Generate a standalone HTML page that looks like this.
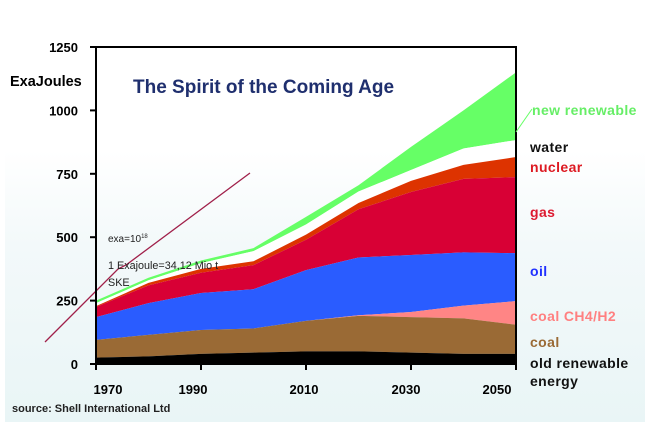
<!DOCTYPE html>
<html><head><meta charset="utf-8"><style>
html,body{margin:0;padding:0;background:#fff}
svg{display:block;font-family:"Liberation Sans",Arial,sans-serif}
</style></head><body>
<svg id="chart" width="655" height="427" viewBox="0 0 655 427">
<defs><linearGradient id="bg" x1="0" y1="0" x2="0" y2="1">
<stop offset="0" stop-color="#ffffff"/><stop offset="0.35" stop-color="#f3f9fa"/><stop offset="1" stop-color="#e9f5f6"/></linearGradient></defs>
<rect x="5" y="150" width="640" height="272" fill="url(#bg)"/>
<g id="areas"></g>
<polyline points="45,342 118,269 126,265 250,173" fill="none" stroke="#a0204a" stroke-width="1.3"/>
<g id="axes"></g>
<text x="133" y="93" font-size="19" font-weight="bold" fill="#1f2f6e">The Spirit of the Coming Age</text>
<text x="10" y="86" font-size="14.5" font-weight="bold" fill="#000">ExaJoules</text>
<text x="108" y="242" font-size="10" fill="#222">exa=10<tspan font-size="6" dy="-4">18</tspan></text>
<text x="108" y="269" font-size="10.8" fill="#222">1 Exajoule=34,12 Mio t</text>
<text x="108" y="286" font-size="10.8" fill="#222">SKE</text>
<text x="12" y="412" font-size="11" font-weight="bold" fill="#222">source: Shell International Ltd</text>
<g font-size="14" font-weight="bold" letter-spacing="0.4">
<line x1="516" y1="132" x2="532" y2="109" stroke="#66ff66" stroke-width="1"/>
<text x="532" y="115" fill="#66ee66">new renewable</text>
<text x="530" y="152" fill="#111">water</text>
<text x="530" y="172" fill="#dd1a22">nuclear</text>
<text x="530" y="217" fill="#dd1a30">gas</text>
<text x="530" y="276" fill="#2030ff">oil</text>
<text x="530" y="321" fill="#ff8080">coal CH4/H2</text>
<text x="530" y="347" fill="#9a6a35">coal</text>
<text x="530" y="368" fill="#111">old renewable</text>
<text x="530" y="386" fill="#111">energy</text>
</g>
</svg>
<script>
const years=[1970,1980,1990,2000,2010,2020,2030,2040,2050];
// cumulative stacked tops (EJ)
const oldRenewable=[25,30,40,45,50,50,45,40,40];
const coal=[95,115,134,140,170,190,185,180,155];
const coalCH4=[95,115,134,140,170,192,205,230,248];
const oil=[185,240,280,295,370,420,430,440,437];
const gas=[225,310,360,390,490,610,678,730,737];
const nuclear=[228,320,375,405,510,635,722,785,816];
const water=[240,330,398,445,550,680,765,850,883];
const newRenewable=[250,340,408,457,580,705,856,1000,1150];
const yTicks=[0,250,500,750,1000,1250];
const xTicks=[1970,1990,2010,2030,2050];
const x=y=>96+(y-1970)*(420/80);
const yv=v=>364-v*0.2536;
const NS='http://www.w3.org/2000/svg';
const areas=document.getElementById('areas');
const layers=[[newRenewable,water,'#66ff66','area-new-renewable'],[water,nuclear,'#ffffff','area-water'],[nuclear,gas,'#dd3300','area-nuclear'],[gas,oil,'#d80035','area-gas'],[oil,coalCH4,'#2a5cff','area-oil'],[coalCH4,coal,'#ff8585','area-coal-ch4'],[coal,oldRenewable,'#9a6a35','area-coal'],[oldRenewable,years.map(()=>0),'#000000','area-old-renewable']];
layers.forEach(([top,bot,col,name])=>{
  let d='M'+years.map((yr,i)=>x(yr)+','+yv(top[i])).join('L');
  for(let i=years.length-1;i>=0;i--)d+='L'+x(years[i])+','+yv(bot[i]);
  const p=document.createElementNS(NS,'path');
  p.setAttribute('d',d+'Z');p.setAttribute('fill',col);
  
  
  areas.appendChild(p);
});
const ax=document.getElementById('axes');
function mk(tag,attrs){const e=document.createElementNS(NS,tag);for(const k in attrs)e.setAttribute(k,attrs[k]);ax.appendChild(e);return e;}
let e=mk('path',{d:'M'+x(1970)+','+yv(1250)+'V'+yv(0)+'H'+x(2050)+'V'+yv(1250)+'H'+x(1970),fill:'none',stroke:'#000','stroke-width':2});


yTicks.forEach(t=>{
  let l=mk('line',{x1:x(1970)-6,x2:x(1970),y1:yv(t),y2:yv(t),stroke:'#000','stroke-width':2});
  
  
  let s=mk('text',{x:x(1970)-18,y:yv(t)+5,'font-size':13,'font-weight':'bold','text-anchor':'end'});
  s.textContent=t;
  
  
});
xTicks.forEach((t,i)=>{
  let l=mk('line',{x1:x(t),x2:x(t),y1:yv(0),y2:yv(0)+6,stroke:'#000','stroke-width':2});
  
  
  const off=[12,-8,-2,-5,-19][i];
  let s=mk('text',{x:x(t)+off,y:394,'font-size':13,'font-weight':'bold','text-anchor':'middle'});
  s.textContent=t;
  
  
});
</script>
</body></html>
